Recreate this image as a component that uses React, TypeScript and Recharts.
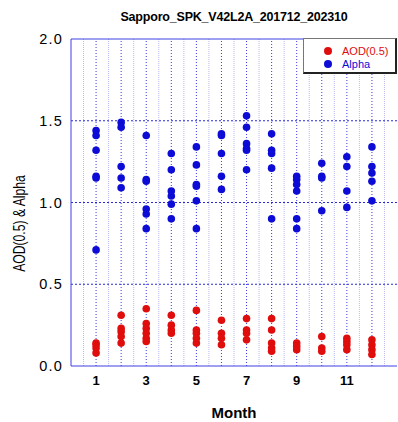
import React from 'react';
import { ScatterChart, Scatter, XAxis, YAxis, ReferenceLine, Legend, Label } from 'recharts';

const months = [1, 2, 3, 4, 5, 6, 7, 8, 9, 10, 11, 12];
const aodByMonth: number[][] = [
  [0.14, 0.13, 0.11, 0.08],
  [0.31, 0.23, 0.21, 0.18, 0.14],
  [0.35, 0.26, 0.23, 0.2, 0.17, 0.15],
  [0.31, 0.25, 0.22, 0.2],
  [0.34, 0.22, 0.2, 0.17, 0.14],
  [0.28, 0.2, 0.17, 0.13],
  [0.29, 0.22, 0.2, 0.16],
  [0.29, 0.22, 0.14, 0.11, 0.09],
  [0.14, 0.12, 0.1],
  [0.18, 0.11, 0.09],
  [0.17, 0.15, 0.13, 0.1],
  [0.16, 0.13, 0.1, 0.07],
];
const alphaByMonth: number[][] = [
  [1.44, 1.41, 1.32, 1.16, 1.15, 0.71],
  [1.49, 1.46, 1.22, 1.15, 1.09],
  [1.41, 1.14, 1.13, 0.96, 0.93, 0.84],
  [1.3, 1.2, 1.07, 1.04, 0.99, 0.9],
  [1.34, 1.23, 1.11, 1.1, 1.01, 0.84],
  [1.42, 1.41, 1.3, 1.16, 1.08],
  [1.53, 1.46, 1.36, 1.33, 1.32, 1.2],
  [1.42, 1.32, 1.3, 1.21, 0.9],
  [1.16, 1.14, 1.11, 1.07, 0.9, 0.84],
  [1.24, 1.16, 1.15, 0.95],
  [1.28, 1.22, 1.07, 0.97],
  [1.34, 1.22, 1.18, 1.13, 1.01],
];
const xTicks = [1, 3, 5, 7, 9, 11];
const yTicks = [0, 0.5, 1, 1.5, 2];
const halfGrid = [0.5, 1.5, 2.5, 3.5, 4.5, 5.5, 6.5, 7.5, 8.5, 9.5, 10.5, 11.5, 12.5];
const intGrid = [1, 2, 3, 4, 5, 6, 7, 8, 9, 10, 11, 12];
const hGrid = [0.5, 1, 1.5];

const toPoints = (arr: number[][]) =>
  arr.flatMap((vals, i) => vals.map((v) => ({ m: months[i], v })));

const aodData = toPoints(aodByMonth);
const alphaData = toPoints(alphaByMonth);

const RED = '#e00d0d';
const BLUE = '#0c0cd6';
const AXIS = '#4040e6';
const FONT = '"Liberation Sans", Arial, sans-serif';

const dot = (color: string) => (props: any) => (
  <circle cx={props.cx} cy={props.cy} r={3.8} fill={color} stroke="none" />
);

const YLabel = () => (
  <text
    transform="translate(19.5,223.5) rotate(-90) scale(0.76,1)"
    textAnchor="middle"
    dominantBaseline="central"
    fill="#000"
    fontFamily={FONT}
    fontSize={16}
  >
    AOD(0.5) &amp; Alpha
  </text>
);

const LegendBox = () => (
  <div
    style={{
      width: 94,
      height: 36,
      background: '#fff',
      borderTop: '1px solid #777',
      borderLeft: '1px solid #777',
      borderRight: '2px solid #222',
      borderBottom: '2px solid #222',
      fontFamily: FONT,
      fontSize: 11,
      boxSizing: 'border-box',
      paddingTop: 5,
    }}
  >
    {[
      { name: 'AOD(0.5)', color: RED },
      { name: 'Alpha', color: BLUE },
    ].map((it) => (
      <div key={it.name} style={{ display: 'flex', alignItems: 'center', height: 13 }}>
        <span
          style={{
            display: 'inline-block',
            width: 8,
            height: 8,
            borderRadius: 4,
            background: it.color,
            marginLeft: 20,
            marginRight: 10,
          }}
        />
        <span style={{ color: it.color }}>{it.name}</span>
      </div>
    ))}
  </div>
);

export default function App() {
  return (
    <div style={{ position: 'absolute', left: 0, top: 0, width: 398, height: 422, background: '#fff' }}>
      <div
        style={{
          position: 'absolute',
          left: 0,
          width: 468,
          top: 10,
          textAlign: 'center',
          fontFamily: FONT,
          fontWeight: 'bold',
          fontSize: 12.5,
          letterSpacing: -0.2,
          color: '#000',
        }}
      >
        Sapporo_SPK_V42L2A_201712_202310
      </div>
      <ScatterChart width={398} height={422} margin={{ top: 39, right: 1, bottom: 0, left: 0 }}>
        {halfGrid.map((x) => (
          <ReferenceLine key={'h' + x} x={x} stroke="#b8b8f2" strokeDasharray="1 1" />
        ))}
        {intGrid.map((x) => (
          <ReferenceLine key={'i' + x} x={x} stroke="#3a3ae8" strokeDasharray="1 2" />
        ))}
        {hGrid.map((y) => (
          <ReferenceLine key={'y' + y} y={y} stroke="#2a2ad8" strokeDasharray="2 2" />
        ))}
        <ReferenceLine y={2} stroke={AXIS} />
        <XAxis
          type="number"
          dataKey="m"
          domain={[0, 13]}
          ticks={xTicks}
          height={56}
          tickSize={0}
          tickMargin={10}
          axisLine={{ stroke: AXIS }}
          tickLine={false}
          tick={{ fill: '#000', fontFamily: FONT, fontSize: 13, fontWeight: 'bold' }}
          interval={0}
          allowDataOverflow
        >
          <Label
            value="Month"
            position="insideBottom"
            offset={4}
            style={{ fill: '#000', fontFamily: FONT, fontSize: 15, fontWeight: 'bold' }}
          />
        </XAxis>
        <YAxis
          type="number"
          dataKey="v"
          domain={[0, 2]}
          ticks={yTicks}
          width={71}
          tickSize={0}
          tickMargin={8}
          axisLine={{ stroke: AXIS }}
          tickLine={false}
          tickFormatter={(v: number) => v.toFixed(1)}
          tick={{ fill: '#000', fontFamily: FONT, fontSize: 14.5, letterSpacing: 1.2 }}
          interval={0}
          allowDataOverflow
        >
          <Label content={<YLabel />} />
        </YAxis>
        <Legend
          layout="vertical"
          align="center"
          verticalAlign="middle"
          wrapperStyle={{ position: 'absolute', left: 303, top: 38, width: 94, height: 36 }}
          content={() => <LegendBox />}
        />
        <Scatter name="AOD(0.5)" data={aodData} fill={RED} shape={dot(RED)} isAnimationActive={false} />
        <Scatter name="Alpha" data={alphaData} fill={BLUE} shape={dot(BLUE)} isAnimationActive={false} />
      </ScatterChart>
    </div>
  );
}
